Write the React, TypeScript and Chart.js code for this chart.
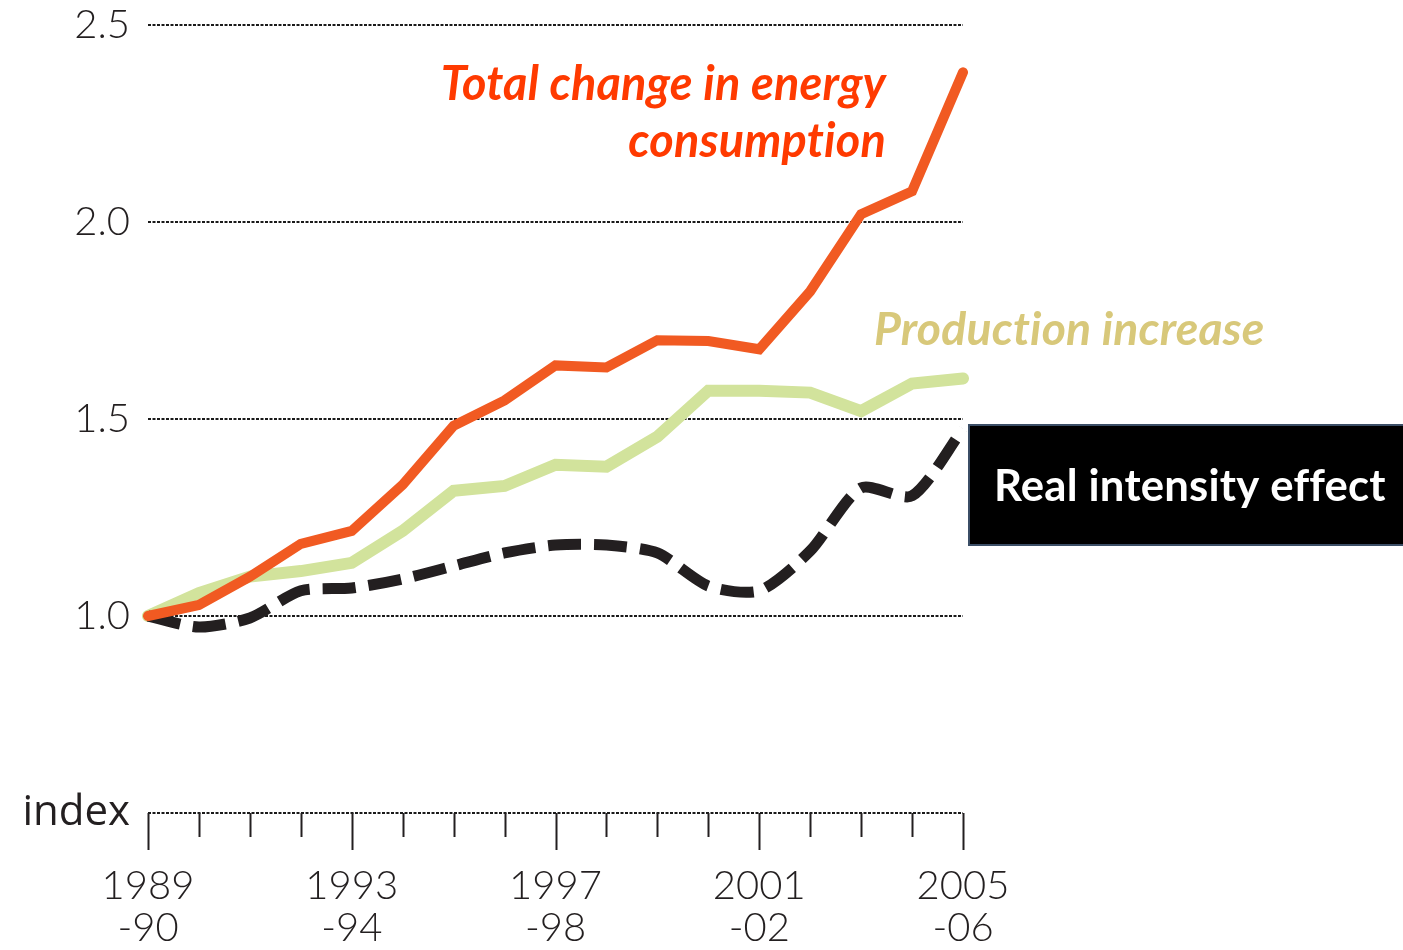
import React, { useEffect, useRef } from "react";
import { Chart, registerables } from "chart.js";

Chart.register(...registerables);

const categories = [
  "1989-90", "1990-91", "1991-92", "1992-93", "1993-94", "1994-95", "1995-96", "1996-97",
  "1997-98", "1998-99", "1999-00", "2000-01", "2001-02", "2002-03", "2003-04", "2004-05", "2005-06",
];
const totalChange = [1.0, 1.028, 1.1, 1.183, 1.216, 1.333, 1.483, 1.547, 1.636, 1.631, 1.7, 1.698, 1.677, 1.824, 2.02, 2.078, 2.38];
const productionIncrease = [1.0, 1.058, 1.1, 1.114, 1.135, 1.216, 1.318, 1.33, 1.384, 1.379, 1.455, 1.572, 1.572, 1.567, 1.52, 1.59, 1.603];
const realIntensity = [1.0, 0.972, 0.995, 1.064, 1.071, 1.094, 1.127, 1.16, 1.18, 1.18, 1.16, 1.076, 1.064, 1.165, 1.325, 1.305, 1.475];
const yTicks = [0.5, 1.0, 1.5, 2.0, 2.5];
const yTickLabels = ["index", "1.0", "1.5", "2.0", "2.5"];
const majorEvery = 4;

const INK = "#231F20";
const FAMILY = "Lato, 'Open Sans', sans-serif";

function fitText(ctx: CanvasRenderingContext2D, text: string, style: string, base: number, width: number) {
  ctx.font = `${style} ${base}px ${FAMILY}`;
  const w = ctx.measureText(text).width;
  const size = (base * width) / w;
  ctx.font = `${style} ${size}px ${FAMILY}`;
}

const decorPlugin = {
  id: "decor",
  afterDraw(chart: any) {
    const { ctx, chartArea, scales } = chart;
    const x = scales.x;
    ctx.save();
    ctx.strokeStyle = INK;
    ctx.lineWidth = 2;
    categories.forEach((_, i) => {
      const px = Math.round(x.getPixelForValue(i)) + 0.5;
      const len = i % majorEvery === 0 ? 37 : 24;
      ctx.beginPath();
      ctx.moveTo(px, chartArea.bottom);
      ctx.lineTo(px, chartArea.bottom + len);
      ctx.stroke();
    });
    ctx.restore();

    const L = chartArea.left;
    const T = chartArea.top;
    ctx.save();
    (ctx as any).letterSpacing = "0.2px";
    ctx.textBaseline = "middle";
    ctx.fillStyle = "#FF3A00";
    ctx.textAlign = "right";
    fitText(ctx, "Total change in energy", "italic bold", 42, 446);
    ctx.fillText("Total change in energy", L + 738, T + 60);
    ctx.fillText("consumption", L + 738, T + 117);

    ctx.fillStyle = "#D8C87A";
    ctx.textAlign = "left";
    fitText(ctx, "Production increase", "italic bold", 42, 391);
    ctx.fillText("Production increase", L + 726, T + 305);

    const bx = L + 821;
    const by = T + 400;
    ctx.fillStyle = "#000";
    ctx.fillRect(bx, by, 1403 - bx + 10, 120);
    ctx.strokeStyle = "#3B4E66";
    ctx.lineWidth = 2;
    ctx.strokeRect(bx, by, 1403 - bx + 10, 120);
    ctx.fillStyle = "#FFFFFF";
    ctx.textAlign = "left";
    fitText(ctx, "Real intensity effect", "bold", 42, 392);
    ctx.fillText("Real intensity effect", bx + 25, by + 62);
    ctx.restore();
  },
};

export default function App() {
  const canvasRef = useRef<HTMLCanvasElement | null>(null);

  useEffect(() => {
    if (!canvasRef.current) return;
    const chart = new Chart(canvasRef.current, {
      type: "line",
      data: {
        labels: categories,
        datasets: [
          {
            label: "Total change in energy consumption",
            data: totalChange,
            borderColor: "#F15A22",
            borderWidth: 10,
            borderCapStyle: "round",
            borderJoinStyle: "miter",
            pointRadius: 0,
            tension: 0,
            order: 1,
          },
          {
            label: "Real intensity effect",
            data: realIntensity,
            borderColor: INK,
            borderWidth: 11,
            borderDash: [33, 13],
            borderCapStyle: "butt",
            pointRadius: 0,
            tension: 0.25,
            order: 2,
          },
          {
            label: "Production increase",
            data: productionIncrease,
            borderColor: "#D2E39C",
            borderWidth: 12,
            borderCapStyle: "round",
            borderJoinStyle: "miter",
            pointRadius: 0,
            tension: 0,
            order: 3,
          },
        ],
      },
      options: {
        animation: false,
        responsive: false,
        maintainAspectRatio: false,
        layout: { padding: { left: 0, top: 25, right: 440, bottom: 0 } },
        plugins: { legend: { display: false }, tooltip: { enabled: false } },
        scales: {
          x: {
            type: "category",
            offset: false,
            grid: { display: false },
            border: { display: false },
            afterFit: (s: any) => { s.height = 137; },
            ticks: {
              autoSkip: false,
              maxRotation: 0,
              padding: 44,
              color: INK,
              font: { family: FAMILY, size: 40, weight: "300", lineHeight: 1.05 },
              callback: (_v: any, i: number) => {
                if (i % majorEvery !== 0) return "";
                const c = categories[i];
                return [c.slice(0, 4), "-" + c.slice(5)];
              },
            },
          },
          y: {
            min: yTicks[0],
            max: yTicks[yTicks.length - 1],
            afterFit: (s: any) => {
              s.width = 148;
              s.paddingTop = 0;
              s.paddingBottom = 0;
            },
            afterBuildTicks: (s: any) => { s.ticks = yTicks.map((v) => ({ value: v })); },
            border: { display: false, dash: [3, 1.5] },
            grid: {
              color: "#1a1a1a",
              lineWidth: 2,
              drawTicks: false,
            },
            ticks: {
              padding: 18,
              color: INK,
              font: (c: any) =>
                c.tick && Math.abs(c.tick.value - 0.5) < 1e-6
                  ? { family: "'Open Sans', " + FAMILY, size: 42, weight: "400" }
                  : { family: FAMILY, size: 40, weight: "300" },
              callback: (v: any) => {
                const idx = yTicks.findIndex((t) => Math.abs(t - v) < 1e-6);
                return idx >= 0 ? yTickLabels[idx] : "";
              },
            },
          },
        },
      },
      plugins: [decorPlugin],
    } as any);
    return () => chart.destroy();
  }, []);

  return (
    <div style={{ position: "fixed", left: 0, top: 0, width: 1403, height: 950, background: "#fff" }}>
      <canvas ref={canvasRef} width={1403} height={950} style={{ width: 1403, height: 950 }} />
    </div>
  );
}
